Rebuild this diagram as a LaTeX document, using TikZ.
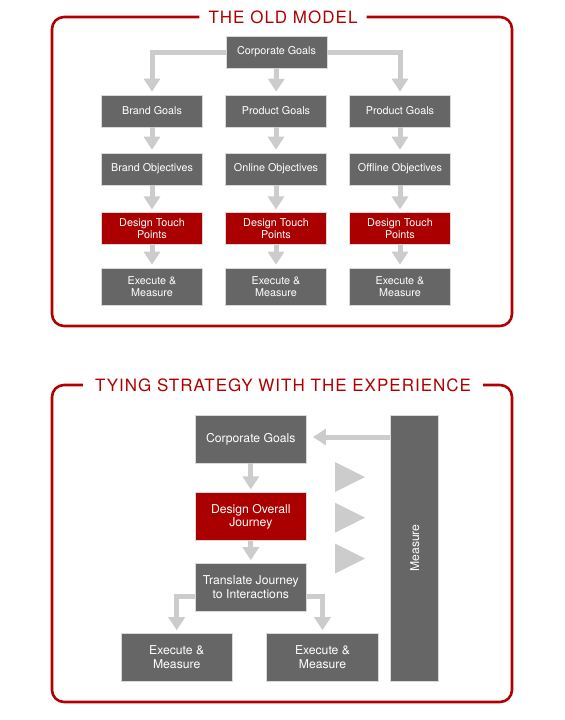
\documentclass[tikz,border=0pt]{standalone}
\usepackage{fontspec}
\setmainfont{TeX Gyre Heros}
\newfontfamily\titlefont[LetterSpace=6]{TeX Gyre Heros}
\usetikzlibrary{arrows.meta,positioning,calc}
\definecolor{boxgray}{HTML}{666666}
\definecolor{boxred}{HTML}{AA0000}
\definecolor{arrgray}{HTML}{CCCCCC}
\definecolor{framered}{HTML}{B00000}

\begin{document}
\begin{tikzpicture}[x=0.03cm, y=-0.03cm,
    box/.style={draw=black!15, line width=0.5pt, fill=boxgray, text=white, minimum width=3.03cm, minimum height=0.96cm, inner sep=1pt, align=center, font=\fontsize{9.2}{10.6}\selectfont},
    redbox/.style={box, fill=boxred},
    exbox/.style={box, minimum height=1.11cm},
    bigbox/.style={box, minimum width=3.35cm, minimum height=1.44cm, font=\fontsize{10.4}{11.8}\selectfont},
    arr/.style={draw=arrgray, line width=0.15cm, -{Triangle[length=0.39cm, width=0.48cm]}, shorten >=0.09cm},
    frame/.style={draw=framered, line width=2.2pt, rounded corners=0.36cm},
    title/.style={text=framered, font=\titlefont\fontsize{14.5}{14.5}\selectfont, inner xsep=0.27cm}
]
\useasboundingbox (0,0) rectangle (565,720);

% the old model
\node[title] (told) at (283,17) {THE OLD MODEL};
\draw[frame] (told.west) -| (52,326) -| (512,17) -- (told.east);

\node[box] (cg) at (276.5,52) {Corporate Goals};
\node[box] (bg) at (152,111) {Brand Goals};
\node[box] (pg1) at (276,111) {Product Goals};
\node[box] (pg2) at (400,111) {Product Goals};
\node[box] (bo) at (152,169) {Brand Objectives};
\node[box] (on) at (276,169) {Online Objectives};
\node[box] (off) at (400,169) {Offline Objectives};
\node[redbox] (tp1) at (152,228.7) {Design Touch\\Points};
\node[redbox] (tp2) at (276,228.7) {Design Touch\\Points};
\node[redbox] (tp3) at (400,228.7) {Design Touch\\Points};
\node[exbox] (ex1) at (152,286.5) {Execute \&\\Measure};
\node[exbox] (ex2) at (276,286.5) {Execute \&\\Measure};
\node[exbox] (ex3) at (400,286.5) {Execute \&\\Measure};

\draw[arr] (cg.west) -| (bg.north);
\draw[arr] (cg.south) -- (pg1.north);
\draw[arr] (cg.east) -| (pg2.north);
\foreach \a/\b in {bg/bo, bo/tp1, tp1/ex1, pg1/on, on/tp2, tp2/ex2, pg2/off, off/tp3, tp3/ex3}
    \draw[arr] (\a.south) -- (\b.north);

% tying strategy with the experience
\node[title, inner xsep=0.36cm] (tnew) at (283,385) {TYING STRATEGY WITH THE EXPERIENCE};
\draw[frame] (tnew.west) -| (52,702) -| (512,385) -- (tnew.east);

\node[bigbox] (cg2) at (250.8,439) {Corporate Goals};
\node[bigbox, fill=boxred] (dj) at (250.8,516.7) {Design Overall\\Journey};
\node[bigbox] (tj) at (250.8,587.5) {Translate Journey\\to Interactions};
\node[bigbox] (em1) at (176.7,657.5) {Execute \&\\Measure};
\node[bigbox] (em2) at (322.5,657.5) {Execute \&\\Measure};
\node[bigbox, rotate=90, minimum width=7.98cm, minimum height=1.44cm] (ms) at (414.7,548) {Measure};

\draw[arr] (cg2.south) -- (dj.north);
\draw[arr] (dj.south) -- (tj.north);
\draw[arr] ([yshift=-0.27cm]tj.west) -| (em1.north);
\draw[arr] ([yshift=-0.27cm]tj.east) -| (em2.north);
\draw[arr, shorten >=0.18cm] ([yshift=0.06cm]cg2.east -| ms.north) -- ([yshift=0.06cm]cg2.east);

\foreach \y in {477,517.7,558.5}
    \fill[arrgray] (335,\y-15) -- (365,\y) -- (335,\y+15) -- cycle;
\end{tikzpicture}
\end{document}
